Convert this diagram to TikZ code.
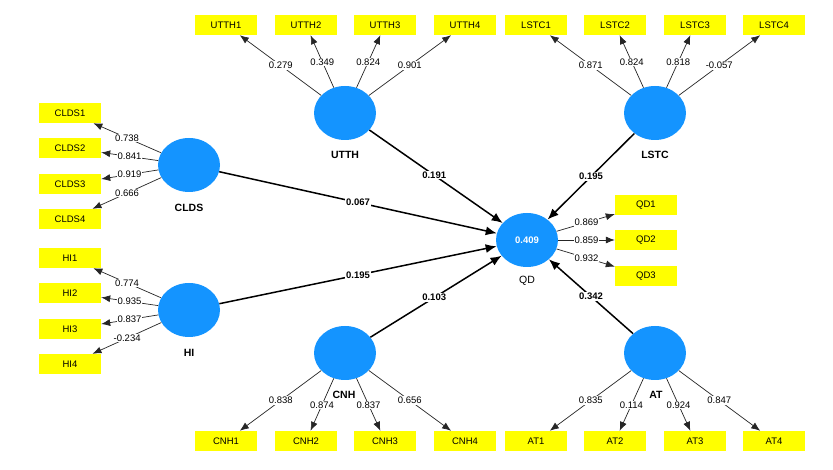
\documentclass[tikz,border=0pt]{standalone}
\usepackage{fontspec}
\setmainfont{Liberation Sans}
\usetikzlibrary{arrows.meta,shapes.geometric}
\definecolor{lvblue}{RGB}{20,148,255}
\definecolor{ind}{RGB}{255,255,0}
\begin{document}
\begin{tikzpicture}[x=1pt,y=-1pt,
 lv/.style={ellipse, fill=lvblue, minimum width=62pt, minimum height=54pt, inner sep=0pt},
 mv/.style={rectangle, fill=ind, minimum width=62pt, minimum height=20pt, inner sep=0pt, font=\fontsize{9.5}{11}\selectfont},
 lvname/.style={font=\bfseries\fontsize{10.5}{12}\selectfont},
 ld/.style={draw=black!85, line width=0.7pt, -{Latex[length=9pt,width=7pt]}},
 pth/.style={draw=black, line width=1.5pt, -{Latex[length=11pt,width=9pt]}},
 ldlbl/.style={fill=white, inner sep=0.8pt, font=\fontsize{9.5}{11}\selectfont},
 pclbl/.style={fill=white, inner sep=0.8pt, font=\bfseries\fontsize{9.5}{11}\selectfont},
]
\useasboundingbox[fill=white] (0,0) rectangle (833,470);

% latent variables
\node[lv] (UTTH) at (345,113) {};
\node[lv] (LSTC) at (655,113) {};
\node[lv] (CLDS) at (189,165) {};
\node[lv] (HI)   at (189,310) {};
\node[lv] (CNH)  at (345,353) {};
\node[lv] (AT)   at (655,353) {};
\node[lv, text=white, font=\bfseries\fontsize{9.5}{11}\selectfont] (QD) at (527,240) {0.409};

\node[lvname] (nUTTH) at (345,155) {UTTH};
\node[lvname] (nLSTC) at (655,155) {LSTC};
\node[lvname] (nCLDS) at (189,208) {CLDS};
\node[lvname] (nHI)   at (189,353) {HI};
\node[lvname] (nCNH)  at (344,395) {CNH};
\node[lvname] (nAT)   at (656,395) {AT};
\node[font=\fontsize{10.5}{12}\selectfont] (nQD) at (527,281) {QD};

% indicators
\foreach \i/\x in {1/226,2/306,3/385,4/465} {
  \node[mv] (UTTH\i) at (\x,25) {UTTH\i};
  \node[mv] (CNH\i) at (\x,441) {CNH\i};
}
\foreach \i/\x in {1/536,2/615,3/695,4/774} {
  \node[mv] (LSTC\i) at (\x,25) {LSTC\i};
  \node[mv] (AT\i) at (\x,441) {AT\i};
}
\foreach \i/\y in {1/113,2/148,3/184,4/219} {
  \node[mv] (CLDS\i) at (70,\y) {CLDS\i};
}
\foreach \i/\y in {1/258,2/293,3/329,4/364} {
  \node[mv] (HI\i) at (70,\y) {HI\i};
}
\foreach \i/\y in {1/205,2/240,3/276} {
  \node[mv] (QD\i) at (646,\y) {QD\i};
}

% outer loadings
\foreach \i/\v/\t in {1/0.279/0.54,2/0.349/0.58,3/0.824/0.58,4/0.901/0.54} {
  \draw[ld] (UTTH) -- (UTTH\i);
  \path (UTTH.center) -- (UTTH\i.center) node[ldlbl,pos=\t] (lUTTH\i) {\v};
}
\foreach \i/\v/\t in {1/0.871/0.54,2/0.824/0.58,3/0.818/0.58,4/-0.057/0.54} {
  \draw[ld] (LSTC) -- (LSTC\i);
  \path (LSTC.center) -- (LSTC\i.center) node[ldlbl,pos=\t] (lLSTC\i) {\v};
}
\foreach \i/\v/\t in {1/0.838/0.54,2/0.874/0.59,3/0.837/0.59,4/0.656/0.54} {
  \draw[ld] (CNH) -- (CNH\i);
  \path (CNH.center) -- (CNH\i.center) node[ldlbl,pos=\t] (lCNH\i) {\v};
}
\foreach \i/\v/\t in {1/0.835/0.54,2/0.114/0.59,3/0.924/0.59,4/0.847/0.54} {
  \draw[ld] (AT) -- (AT\i);
  \path (AT.center) -- (AT\i.center) node[ldlbl,pos=\t] (lAT\i) {\v};
}
\foreach \i/\v/\t in {1/0.738/0.52,2/0.841/0.5,3/0.919/0.5,4/0.666/0.52} {
  \draw[ld] (CLDS) -- (CLDS\i);
  \path (CLDS.center) -- (CLDS\i.center) node[ldlbl,pos=\t] (lCLDS\i) {\v};
}
\foreach \i/\v/\t in {1/0.774/0.52,2/0.935/0.5,3/0.837/0.5,4/-0.234/0.52} {
  \draw[ld] (HI) -- (HI\i);
  \path (HI.center) -- (HI\i.center) node[ldlbl,pos=\t] (lHI\i) {\v};
}
\foreach \i/\v in {1/0.869,2/0.859,3/0.932} {
  \draw[ld] (QD) -- (QD\i);
  \path (QD.center) -- (QD\i.center) node[ldlbl,pos=0.5] (lQD\i) {\v};
}

% structural paths
\foreach \s/\v/\t in {UTTH/0.191/0.49, LSTC/0.195/0.5, CLDS/0.067/0.5, HI/0.195/0.5, CNH/0.103/0.49, AT/0.342/0.5} {
  \draw[pth] (\s) -- (QD);
  \path (\s.center) -- (QD.center) node[pclbl,pos=\t] (p\s) {\v};
}
\end{tikzpicture}
\end{document}
